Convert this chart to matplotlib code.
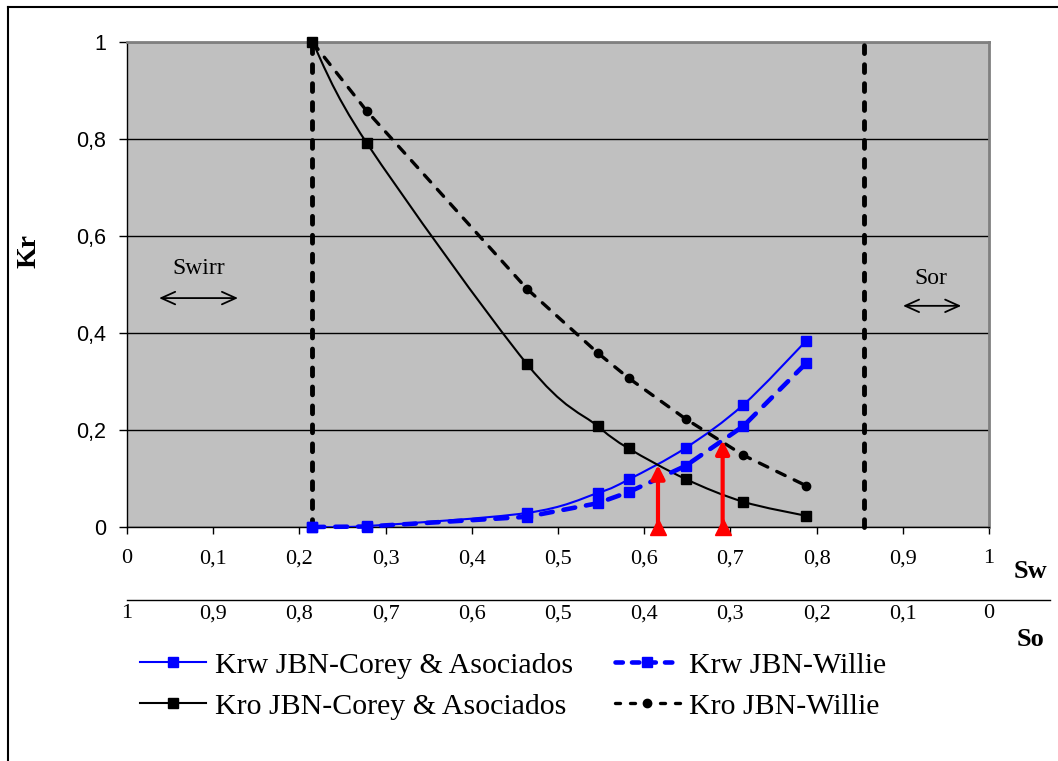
import numpy as np
import matplotlib
matplotlib.use("Agg")
import matplotlib.pyplot as plt
from matplotlib.path import Path
from matplotlib.patches import PathPatch
from matplotlib.lines import Line2D

# data
sw = [0.215, 0.278, 0.464, 0.546, 0.582, 0.648, 0.715, 0.788]
krw_corey = [0.0, 0.002, 0.029, 0.070, 0.098, 0.163, 0.252, 0.384]
kro_corey = [1.0, 0.792, 0.336, 0.208, 0.162, 0.099, 0.052, 0.023]
krw_willie = [0.0, 0.001, 0.021, 0.049, 0.072, 0.126, 0.208, 0.338]
kro_willie = [1.0, 0.858, 0.491, 0.359, 0.307, 0.223, 0.148, 0.085]

sw_irr = 0.215
sw_sor = 0.855
cross_sw = [0.616, 0.691]
cross_kr = [0.128, 0.179]

sw_ticks = [0, 0.1, 0.2, 0.3, 0.4, 0.5, 0.6, 0.7, 0.8, 0.9, 1]
sw_labels = ['0', '0,1', '0,2', '0,3', '0,4', '0,5', '0,6', '0,7', '0,8', '0,9', '1']
so_ticks = [1, 0.9, 0.8, 0.7, 0.6, 0.5, 0.4, 0.3, 0.2, 0.1, 0]
so_labels = ['1', '0,9', '0,8', '0,7', '0,6', '0,5', '0,4', '0,3', '0,2', '0,1', '0']
kr_ticks = [0, 0.2, 0.4, 0.6, 0.8, 1]
kr_labels = ['0', '0,2', '0,4', '0,6', '0,8', '1']

SERIF = 'Liberation Serif'
SANS = 'Liberation Sans'
W, H = 1058, 761


def smooth_path(x, y):
    # Excel-like smoothed line: Catmull-Rom segments as cubic Bezier curves
    p = np.column_stack([x, y])
    pts = np.vstack([p[0], p, p[-1]])
    verts = [p[0]]
    codes = [Path.MOVETO]
    for i in range(1, len(pts) - 2):
        c1 = pts[i] + (pts[i + 1] - pts[i - 1]) / 6
        c2 = pts[i + 1] - (pts[i + 2] - pts[i]) / 6
        verts += [c1, c2, pts[i + 1]]
        codes += [Path.CURVE4] * 3
    return Path(verts, codes)


fig = plt.figure(figsize=(W / 100, H / 100), dpi=100)
ax = fig.add_axes([127 / W, 1 - 527 / H, (989 - 127) / W, (527 - 42) / H])
ax.set_facecolor('#C0C0C0')
ax.set_xlim(0, 1)
ax.set_ylim(0, 1)

# outer frame (only left and top visible)
fig.add_artist(Line2D([8 / W, 8 / W], [0, 1 - 7 / H], color='black', lw=1.5, transform=fig.transFigure))
fig.add_artist(Line2D([8 / W, 1], [1 - 7 / H, 1 - 7 / H], color='black', lw=1.5, transform=fig.transFigure))

ax.set_axisbelow(True)
ax.yaxis.grid(True, color='black', lw=1)
for s in ['top', 'right']:
    ax.spines[s].set_color('#808080')
    ax.spines[s].set_linewidth(2)
for s in ['left', 'bottom']:
    ax.spines[s].set_color('black')
    ax.spines[s].set_linewidth(1)

# Swirr / Sor limits
for v in [sw_irr, sw_sor]:
    ax.plot([v, v], [0, 1], color='black', lw=3.5, dashes=(1.6, 2.3),
            dash_capstyle='round', clip_on=False, zorder=3)

# Corey curves (smoothed)
ax.add_patch(PathPatch(smooth_path(sw, krw_corey), fill=False, ec='#0000FF', lw=1.5, zorder=4))
ax.plot(sw, krw_corey, ls='none', marker='s', ms=6.5, color='#0000FF', clip_on=False, zorder=5)
ax.add_patch(PathPatch(smooth_path(sw, kro_corey), fill=False, ec='black', lw=1.5, zorder=4))
ax.plot(sw, kro_corey, ls='none', marker='s', ms=6.5, color='black', clip_on=False, zorder=5)

# Willie curves
ax.plot(sw, krw_willie, color='#0000FF', lw=3.3, dashes=(2.6, 2.4), dash_capstyle='round',
        marker='s', ms=7.5, clip_on=False, zorder=4)
ax.plot(sw, kro_willie, color='black', lw=2.4, dashes=(2.8, 3.0), dash_capstyle='round',
        marker='o', ms=6, clip_on=False, zorder=4)

# red arrows at the crossing points
for xs, ys in zip(cross_sw, cross_kr):
    ax.annotate('', xy=(xs, ys), xytext=(xs, 0.0),
                arrowprops=dict(arrowstyle='-|>,head_length=0.8,head_width=0.4',
                                color='#FF0000', lw=3, shrinkA=0, shrinkB=0),
                zorder=6, annotation_clip=False)
    ax.plot([xs], [0.0], marker='^', ms=11, color='#FF0000', ls='none', clip_on=False, zorder=6)

# Swirr and Sor annotations
ax.annotate('', xy=(0.034, 0.472), xytext=(0.132, 0.472),
            arrowprops=dict(arrowstyle='<->,head_length=1.0,head_width=0.45', color='black', lw=1.3))
ax.text(0.083, 0.534, 'Swirr', family=SERIF, fontsize=17, ha='center', va='center')
ax.annotate('', xy=(0.897, 0.456), xytext=(0.971, 0.456),
            arrowprops=dict(arrowstyle='<->,head_length=1.0,head_width=0.45', color='black', lw=1.3))
ax.text(0.933, 0.513, 'Sor', family=SERIF, fontsize=17, ha='center', va='center')

# axes ticks
ax.set_yticks(kr_ticks, kr_labels, family=SANS, fontsize=15.5)
ax.tick_params(axis='y', direction='out', length=6, width=1, pad=9)
ax.set_xticks(sw_ticks, sw_labels, family=SERIF, fontsize=16)
ax.tick_params(axis='x', direction='out', length=5, width=1, pad=11)
ax.set_ylabel('Kr', family=SERIF, fontsize=20, fontweight='bold')
ax.yaxis.set_label_coords((42 - 127) / 862, (527 - 251) / 485)

# So axis below
so_y = -(600 - 527) / 485
so_ax = ax.secondary_xaxis(so_y, functions=(lambda x: 1 - x, lambda x: 1 - x))
so_ax.set_xticks(so_ticks, so_labels, family=SERIF, fontsize=16)
so_ax.tick_params(axis='x', length=0, pad=3)
so_ax.spines['bottom'].set_visible(False)
ax.plot([0, (1050 - 127) / 862], [so_y, so_y], color='black', lw=1, clip_on=False,
        transform=ax.transAxes)

fig.text(1030 / W, 1 - 572 / H, 'Sw', family=SERIF, fontsize=19, fontweight='bold', ha='center', va='center')
fig.text(1030 / W, 1 - 640 / H, 'So', family=SERIF, fontsize=19, fontweight='bold', ha='center', va='center')

# legend
handles = [
    Line2D([], [], color='#0000FF', lw=1.5, marker='s', ms=6.5),
    Line2D([], [], color='black', lw=1.5, marker='s', ms=6.5),
    Line2D([], [], color='#0000FF', lw=3.3, dashes=(1.6, 2.0), dash_capstyle='round', marker='s', ms=7.5),
    Line2D([], [], color='black', lw=2.4, dashes=(1.5, 3.0), dash_capstyle='round', marker='o', ms=6),
]
labels = ['Krw JBN-Corey & Asociados', 'Kro JBN-Corey & Asociados',
          'Krw JBN-Willie', 'Kro JBN-Willie']
fig.legend(handles, labels, ncol=2, loc='upper left', bbox_to_anchor=(140 / W, 1 - 652 / H),
           frameon=False, prop={'family': SERIF, 'size': 21.5}, handlelength=2.2,
           handletextpad=0.3, columnspacing=1.4, labelspacing=0.47,
           borderpad=0, borderaxespad=0)

fig.savefig('out.png', dpi=100)
